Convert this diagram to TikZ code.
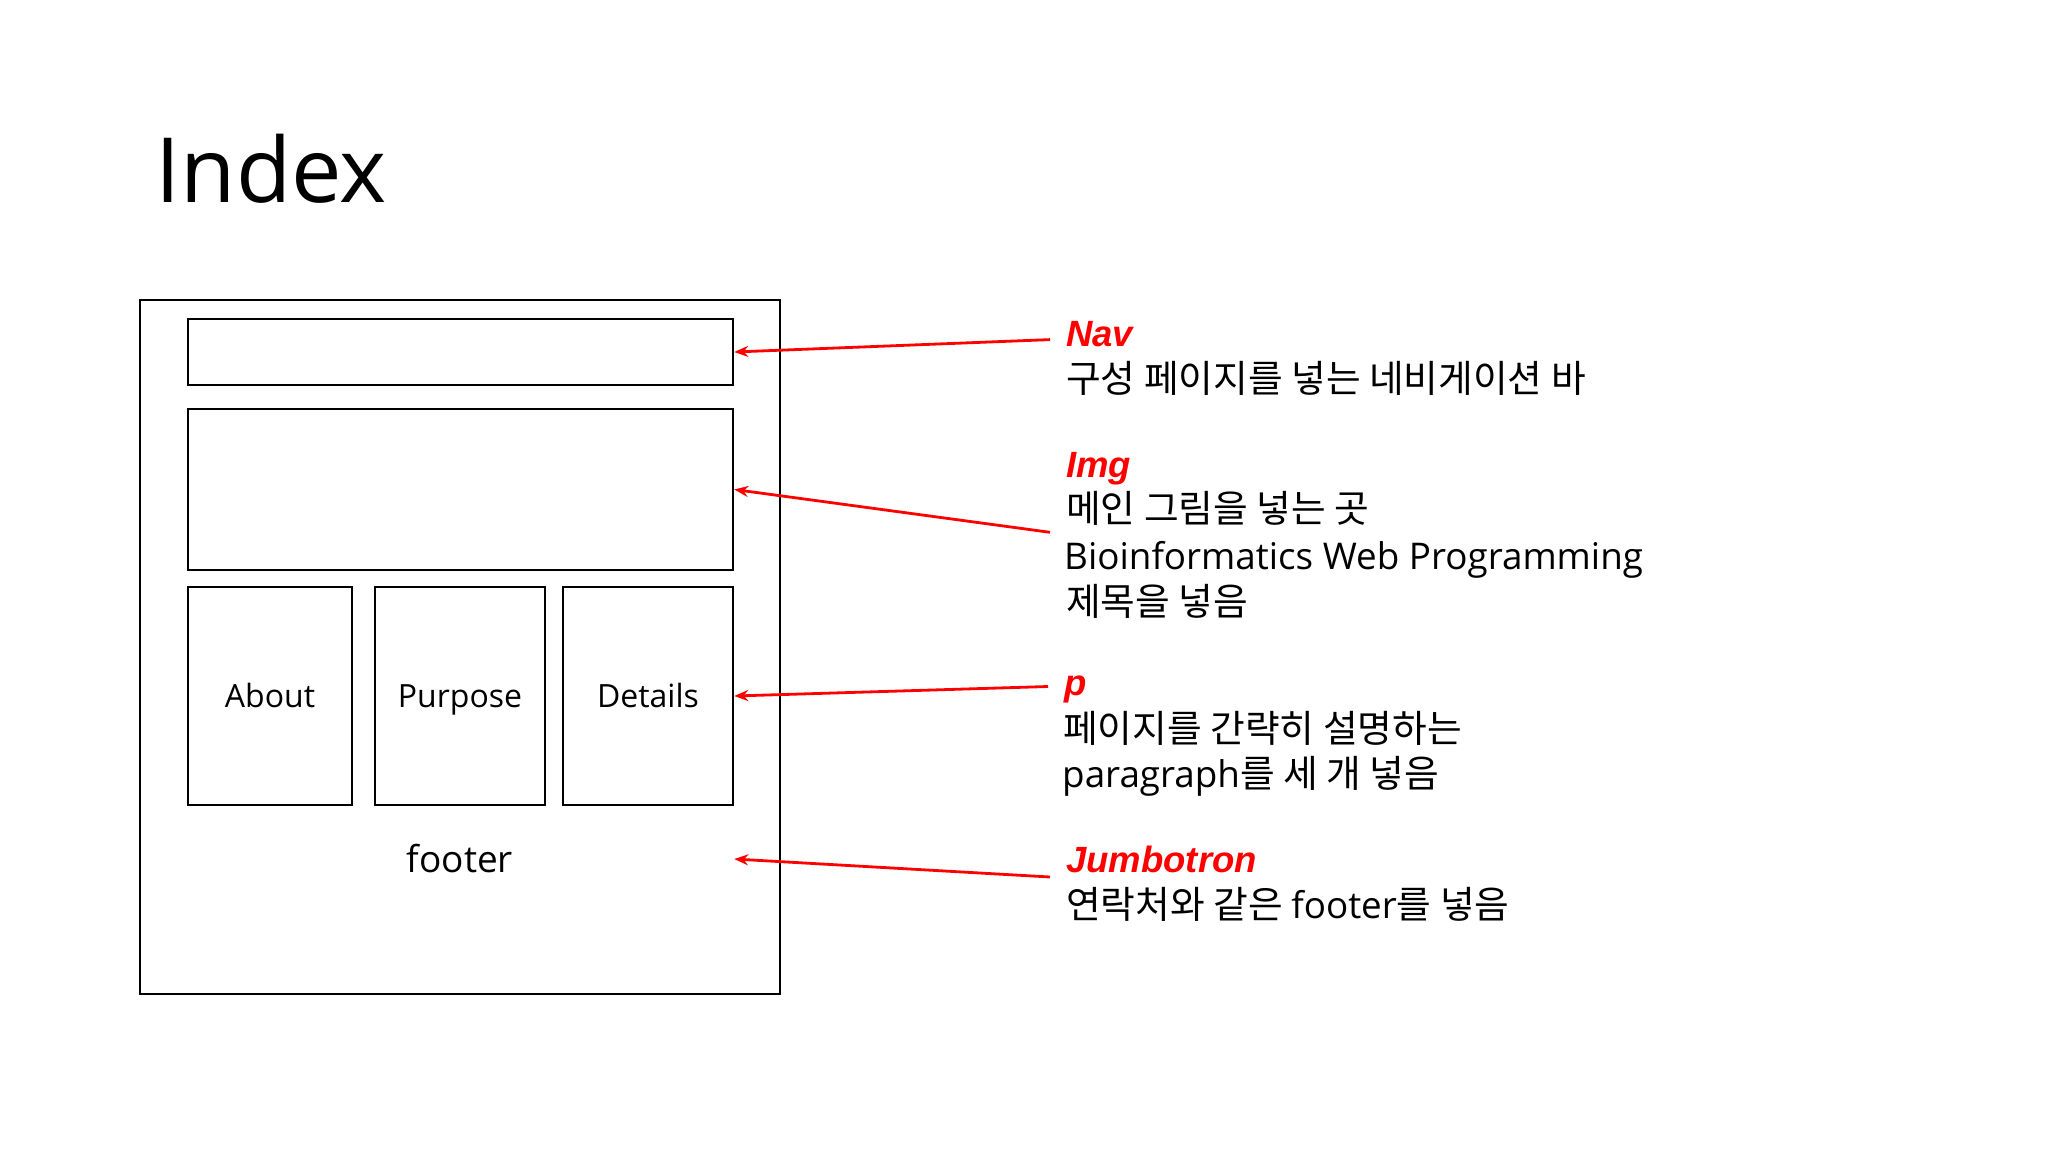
\documentclass[tikz,border=0pt]{standalone}
\usepackage{fontspec}
\setmainfont{Open Sans}
\newfontfamily\kr[Scale=1.025]{Noto Sans CJK KR}
\newfontfamily\lab{Liberation Sans}
\usetikzlibrary{arrows.meta}
\begin{document}
\begin{tikzpicture}[x=1pt,y=-1pt,
  frame/.style={draw=black, line width=2.5pt, inner sep=0pt},
  boxlabel/.style={font=\fontsize{32}{38}\selectfont, text height=23pt, text depth=0pt},
  desc/.style={anchor=base west, inner sep=0pt, font=\fontsize{36.8}{44}\selectfont},
  tag/.style={anchor=base west, inner sep=0pt, text=red, font=\lab\bfseries\itshape\fontsize{36.5}{42}\selectfont},
  callout/.style={draw=red, line width=2.8pt, -{Stealth[length=14pt, width=11pt]}}]
\fill[white] (0,0) rectangle (2048,1152);
\useasboundingbox (0,0) rectangle (2048,1152);

\node[anchor=base west, inner sep=0pt, font=\fontsize{90}{100}\selectfont] (title) at (155.5,202) {Index};

\node[frame, minimum width=640, minimum height=694] (page) at (460,647) {};
\node[frame, minimum width=545, minimum height=66] (nav) at (460.5,352) {};
\node[frame, minimum width=545, minimum height=161] (img) at (460.5,489.5) {};
\node[frame, boxlabel, minimum width=164, minimum height=218] (about) at (270,696) {About};
\node[frame, boxlabel, minimum width=170, minimum height=218] (purpose) at (460,696) {Purpose};
\node[frame, boxlabel, minimum width=170, minimum height=218] (details) at (648,696) {Details};
\node[inner sep=0pt, font=\fontsize{37}{44}\selectfont, text height=26pt, text depth=0pt] (footer) at (460,859) {footer};

\node[tag] (navT) at (1066,346) {Nav};
\node[desc] (navD) at (1066,392) {\kr 구성 페이지를 넣는 네비게이션 바};

\node[tag] (imgT) at (1066,477) {Img};
\node[desc] (imgD1) at (1066,522) {\kr 메인 그림을 넣는 곳};
\node[desc] (imgD2) at (1064,569) {Bioinformatics Web Programming};
\node[desc] (imgD3) at (1066,615) {\kr 제목을 넣음};

\node[tag] (pT) at (1064,695) {p};
\node[desc] (pD1) at (1063,742) {\kr 페이지를 간략히 설명하는};
\node[desc] (pD2) at (1062,787) {paragraph{\kr 를 세 개 넣음}};

\node[tag] (jT) at (1066,872) {Jumbotron};
\node[desc] (jD) at (1066,918) {{\kr 연락처와 같은 }footer{\kr 를 넣음}};

\coordinate (navTail) at (1050,339.6);
\coordinate (imgTail) at (1050,532.3);
\coordinate (pTail) at (1048,686.5);
\coordinate (jTail) at (1050,877);

\draw[callout] (navTail) -- (nav.east);
\draw[callout] (imgTail) -- (img.east);
\draw[callout] (pTail) -- (details.east);
\draw[callout] (jTail) -- (details.east |- footer);
\end{tikzpicture}
\end{document}
